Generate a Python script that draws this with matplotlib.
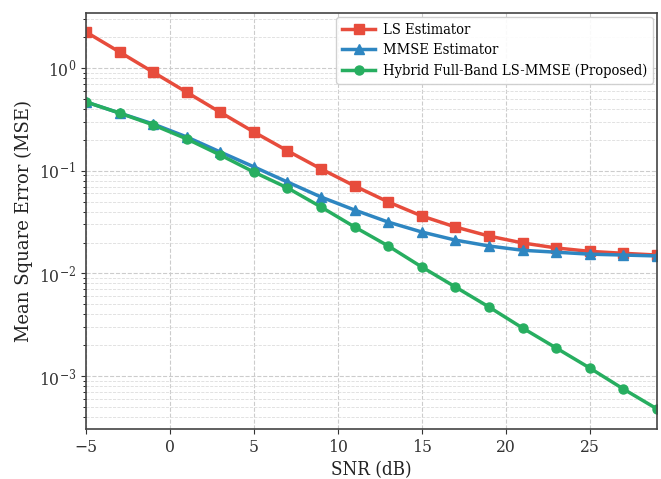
import numpy as np
import matplotlib.pyplot as plt

plt.rcParams['font.family'] = ['DejaVu Serif']
plt.rcParams['font.stretch'] = 'condensed'

# SNR sweep (dB) and estimated mean square error per estimator
snr_db = [-5, -3, -1, 1, 3, 5, 7, 9, 11, 13, 15, 17, 19, 21, 23, 25, 27, 29]
mse_ls = [2.24, 1.43, 0.91, 0.58, 0.37, 0.238, 0.156, 0.104, 0.071, 0.0496,
          0.0362, 0.0283, 0.0231, 0.0198, 0.0177, 0.0164, 0.0157, 0.0151]
mse_mmse = [0.467, 0.364, 0.285, 0.213, 0.152, 0.109, 0.0776, 0.0554, 0.0414, 0.0316,
            0.0253, 0.0211, 0.0185, 0.0168, 0.0161, 0.0154, 0.0151, 0.0148]
mse_hybrid = [0.467, 0.364, 0.279, 0.204, 0.142, 0.097, 0.068, 0.0443, 0.0283, 0.0185,
              0.01154, 0.00738, 0.00471, 0.00294, 0.00188, 0.0012, 0.00075, 0.00048]

fig = plt.figure(figsize=(6.61, 4.79), dpi=100)
ax = fig.add_axes([0.130, 0.104, 0.864, 0.869])

ax.semilogy(snr_db, mse_ls, '-s', color='#e74c3c', lw=2.5, ms=6.5, label='LS Estimator')
ax.semilogy(snr_db, mse_mmse, '-^', color='#2e86c1', lw=2.5, ms=6.5, label='MMSE Estimator')
ax.semilogy(snr_db, mse_hybrid, '-o', color='#27ae60', lw=2.5, ms=6.5,
            label='Hybrid Full-Band LS-MMSE (Proposed)')

ax.set_xlim(-5, 29)
ax.set_ylim(3.05e-4, 3.43)
ax.set_xticks([-5, 0, 5, 10, 15, 20, 25])
ax.grid(True, which='major', ls='--', lw=0.8, color='#cccccc')
ax.grid(True, which='minor', axis='y', ls='--', lw=0.6, color='#dddddd')
for s in ax.spines.values():
    s.set_color('#444444')
    s.set_linewidth(1.2)
ax.tick_params(labelsize=12.5, colors='#333333')

ax.set_xlabel('SNR (dB)', fontsize=13.5, color='#222222')
ax.set_ylabel('Mean Square Error (MSE)', fontsize=13, fontstretch='normal', color='#222222')
ax.legend(loc='upper right', fontsize=10.5, framealpha=0.9, edgecolor='#cccccc',
          handlelength=2.3, handletextpad=0.5, borderpad=0.4, labelspacing=0.42,
          borderaxespad=0.3)

fig.savefig('out.png', dpi=100)
